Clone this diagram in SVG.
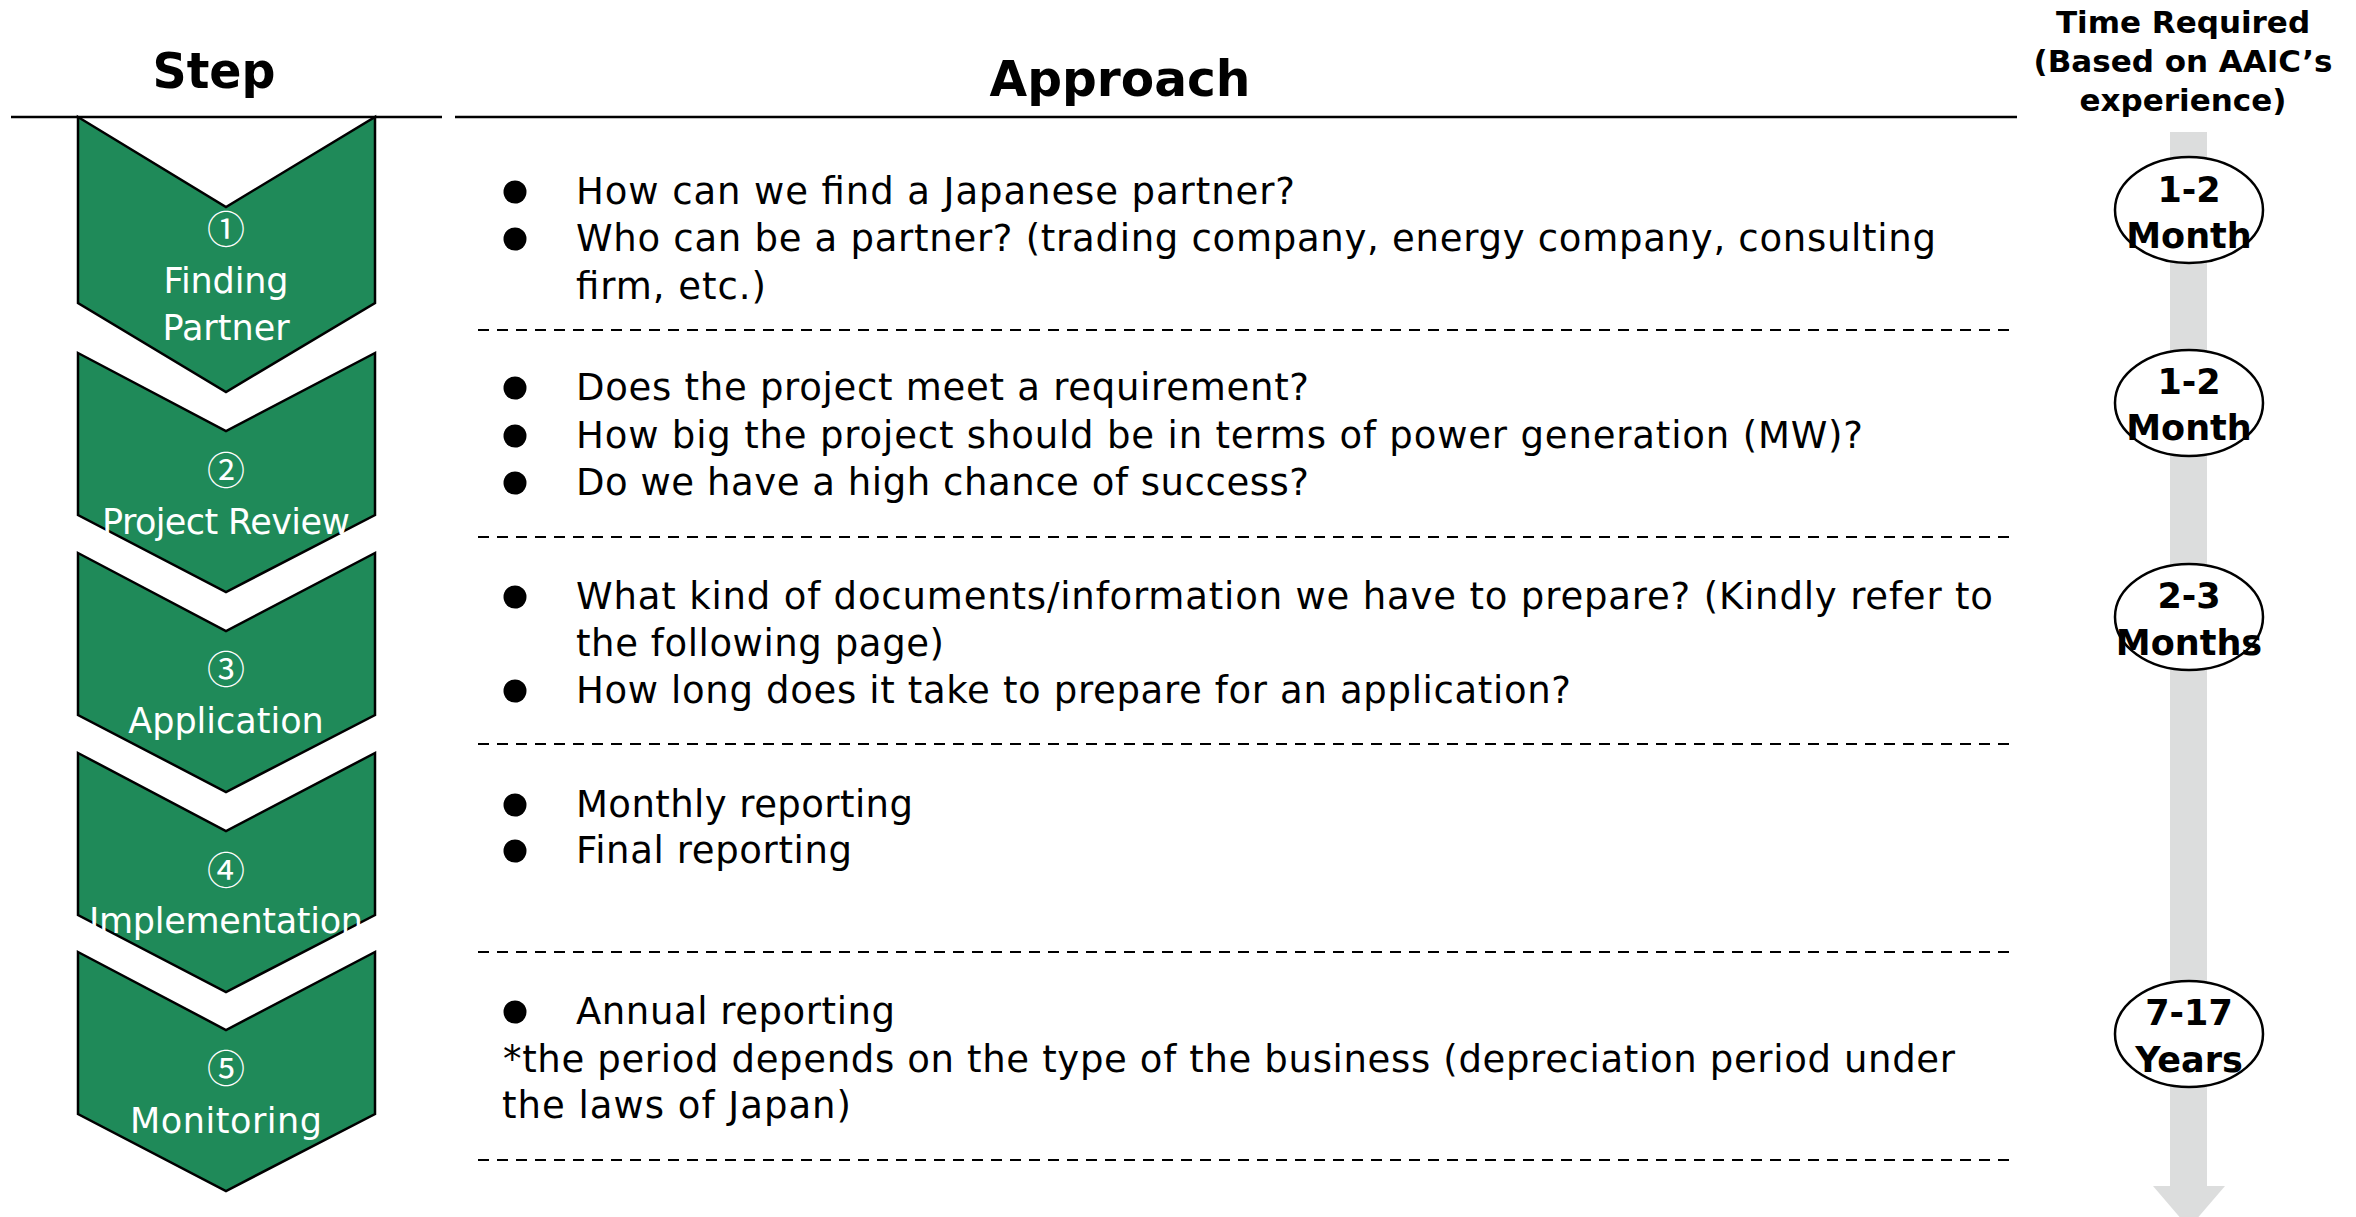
<svg xmlns="http://www.w3.org/2000/svg" width="2356" height="1217" viewBox="0 0 2356 1217">
<style>
.chev{fill:#1F8A59;stroke:#000;stroke-width:2.5;stroke-linejoin:miter}
.num{font-family:"Noto Sans CJK JP","DejaVu Sans",sans-serif;font-size:38px;fill:#fff;text-anchor:middle}
.lbl{font-family:"DejaVu Sans","Noto Sans",sans-serif;font-size:35px;fill:#fff;text-anchor:middle}
.hdr{font-family:"DejaVu Sans","Liberation Sans",sans-serif;font-weight:bold;font-size:50px;fill:#000;text-anchor:middle}
.thdr{font-family:"DejaVu Sans","Liberation Sans",sans-serif;font-weight:bold;font-size:31px;fill:#000;text-anchor:middle}
.body{font-family:"DejaVu Sans","Noto Sans",sans-serif;font-size:37px;fill:#000}
.dash{stroke:#000;stroke-width:2;stroke-dasharray:11 8;fill:none}
.rule{stroke:#000;stroke-width:2.5}
.ell{fill:#fff;stroke:#000;stroke-width:2.5}
.tt{font-family:"DejaVu Sans","Liberation Sans",sans-serif;font-weight:bold;font-size:35px;fill:#000;text-anchor:middle}
</style>

<g id="headers">
  <text class="hdr" x="214" y="88" textLength="123" lengthAdjust="spacingAndGlyphs">Step</text>
  <text class="hdr" x="1120" y="96" textLength="261" lengthAdjust="spacingAndGlyphs">Approach</text>
  <line class="rule" x1="11" y1="117" x2="442" y2="117"/>
  <line class="rule" x1="455" y1="117" x2="2017" y2="117"/>
  <text class="thdr" x="2183" y="33">Time Required</text>
  <text class="thdr" x="2183" y="72">(Based on AAIC’s</text>
  <text class="thdr" x="2183" y="111">experience)</text>
</g>

<g id="connectors">
  <path d="M2170 132 H2207 V1186 H2225 L2189 1228 L2153 1186 H2170 Z" fill="#DCDDDD"/>
</g>

<g id="step-1">
  <polygon class="chev" points="78,117 226,207 375,117 375,303 226,392 78,303"/>
  <text class="num" x="226" y="243">①</text>
  <text class="lbl" x="226" y="293" textLength="125">Finding</text>
  <text class="lbl" x="226" y="340">Partner</text>
</g>
<g id="step-2">
  <polygon class="chev" points="78,353 226,431 375,353 375,515 226,592 78,515"/>
  <text class="num" x="226" y="484">②</text>
  <text class="lbl" x="226" y="534" textLength="248">Project Review</text>
</g>
<g id="step-3">
  <polygon class="chev" points="78,553 226,631 375,553 375,715 226,792 78,715"/>
  <text class="num" x="226" y="683">③</text>
  <text class="lbl" x="226" y="733">Application</text>
</g>
<g id="step-4">
  <polygon class="chev" points="78,753 226,831 375,753 375,915 226,992 78,915"/>
  <text class="num" x="226" y="884">④</text>
  <text class="lbl" x="226" y="933" textLength="274">Implementation</text>
</g>
<g id="step-5">
  <polygon class="chev" points="78,952 226,1030 375,952 375,1114 226,1191 78,1114"/>
  <text class="num" x="226" y="1082">⑤</text>
  <text class="lbl" x="226" y="1133" textLength="192">Monitoring</text>
</g>

<g id="dividers">
  <line class="dash" x1="478" y1="330" x2="2017" y2="330"/>
  <line class="dash" x1="478" y1="537" x2="2017" y2="537"/>
  <line class="dash" x1="478" y1="744" x2="2017" y2="744"/>
  <line class="dash" x1="478" y1="952" x2="2017" y2="952"/>
  <line class="dash" x1="478" y1="1160" x2="2017" y2="1160"/>
</g>

<g id="approach-1">
  <circle cx="515" cy="192" r="11.5"/>
  <circle cx="515" cy="239" r="11.5"/>
  <text class="body" x="576" y="204" textLength="719">How can we find a Japanese partner?</text>
  <text class="body" x="576" y="251" textLength="1360">Who can be a partner? (trading company, energy company, consulting</text>
  <text class="body" x="576" y="299" textLength="190">firm, etc.)</text>
</g>
<g id="approach-2">
  <circle cx="515" cy="388" r="11.5"/>
  <circle cx="515" cy="436" r="11.5"/>
  <circle cx="515" cy="483" r="11.5"/>
  <text class="body" x="576" y="400" textLength="733">Does the project meet a requirement?</text>
  <text class="body" x="576" y="448" textLength="1287">How big the project should be in terms of power generation (MW)?</text>
  <text class="body" x="576" y="495" textLength="733">Do we have a high chance of success?</text>
</g>
<g id="approach-3">
  <circle cx="515" cy="597" r="11.5"/>
  <circle cx="515" cy="691" r="11.5"/>
  <text class="body" x="576" y="609" textLength="1417">What kind of documents/information we have to prepare? (Kindly refer to</text>
  <text class="body" x="576" y="656" textLength="368">the following page)</text>
  <text class="body" x="576" y="703" textLength="995">How long does it take to prepare for an application?</text>
</g>
<g id="approach-4">
  <circle cx="515" cy="805" r="11.5"/>
  <circle cx="515" cy="851" r="11.5"/>
  <text class="body" x="576" y="817" textLength="337">Monthly reporting</text>
  <text class="body" x="576" y="863" textLength="276">Final reporting</text>
</g>
<g id="approach-5">
  <circle cx="515" cy="1012" r="11.5"/>
  <text class="body" x="576" y="1024" textLength="319">Annual reporting</text>
  <text class="body" x="503" y="1072" textLength="1452">*the period depends on the type of the business (depreciation period under</text>
  <text class="body" x="502" y="1118" textLength="349">the laws of Japan)</text>
</g>

<g id="time-1">
  <ellipse class="ell" cx="2189" cy="210" rx="74" ry="53"/>
  <text class="tt" x="2189" y="202">1-2</text>
  <text class="tt" x="2189" y="248">Month</text>
</g>
<g id="time-2">
  <ellipse class="ell" cx="2189" cy="403" rx="74" ry="53"/>
  <text class="tt" x="2189" y="394">1-2</text>
  <text class="tt" x="2189" y="440">Month</text>
</g>
<g id="time-3">
  <ellipse class="ell" cx="2189" cy="617" rx="74" ry="53"/>
  <text class="tt" x="2189" y="608">2-3</text>
  <text class="tt" x="2189" y="655">Months</text>
</g>
<g id="time-4">
  <ellipse class="ell" cx="2189" cy="1034" rx="74" ry="53"/>
  <text class="tt" x="2189" y="1025">7-17</text>
  <text class="tt" x="2189" y="1072">Years</text>
</g>
</svg>
